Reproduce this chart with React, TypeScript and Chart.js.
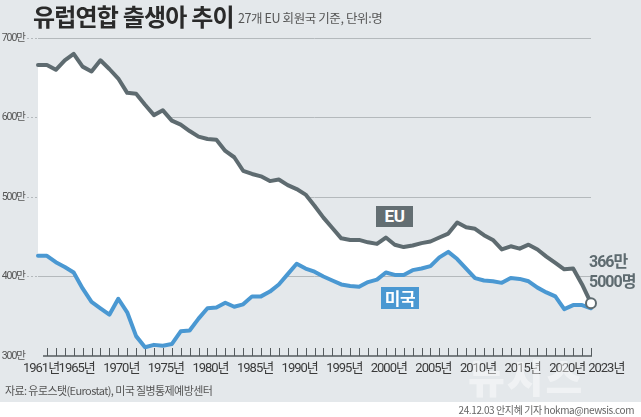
import React, { useEffect, useRef } from "react";
import { Chart, registerables } from "chart.js";

Chart.register(...registerables);

// ---------- data (만 명) ----------
const years = [
  1961, 1962, 1963, 1964, 1965, 1966, 1967, 1968, 1969, 1970,
  1971, 1972, 1973, 1974, 1975, 1976, 1977, 1978, 1979, 1980,
  1981, 1982, 1983, 1984, 1985, 1986, 1987, 1988, 1989, 1990,
  1991, 1992, 1993, 1994, 1995, 1996, 1997, 1998, 1999, 2000,
  2001, 2002, 2003, 2004, 2005, 2006, 2007, 2008, 2009, 2010,
  2011, 2012, 2013, 2014, 2015, 2016, 2017, 2018, 2019, 2020,
  2021, 2022, 2023,
];

const euBirths = [
  666, 666, 660, 672, 680, 664, 658, 672, 661, 649,
  631, 630, 616, 603, 609, 596, 591, 583, 576, 573,
  572, 558, 550, 533, 529, 526, 520, 522, 515, 510,
  503, 489, 474, 461, 448, 446, 446, 443, 441, 449,
  440, 437, 439, 442, 444, 449, 454, 468, 462, 460,
  452, 446, 434, 438, 435, 440, 434, 425, 417, 409,
  410, 390, 366.5,
];

const usBirths = [
  426, 426, 418, 412, 405, 385, 368, 360, 352, 372,
  355, 325, 311, 314, 313, 315, 331, 332, 347, 360,
  361, 367, 362, 365, 375, 375, 381, 390, 403, 416,
  410, 406, 400, 395, 390, 388, 387, 393, 396, 405,
  402, 402, 408, 410, 413, 424, 431, 422, 410, 398,
  395, 394, 392, 398, 397, 394, 386, 380, 375, 359,
  364, 364, 360,
];

const labeledYears = [1961, 1965, 1970, 1975, 1980, 1985, 1990, 1995, 2000, 2005, 2010, 2015, 2020, 2023];
const yMin = 300;
const yMax = 700;
const yStep = 100;

// ---------- styles ----------
const W = 641;
const H = 417;
const BG = "#e4e8eb";
const EU_COLOR = "#5e6b70";
const US_COLOR = "#4a98d2";
const AXIS_FONT = "Roboto, 'Noto Sans CJK KR', sans-serif";
const KR = "'Noto Sans CJK KR', 'Noto Sans', sans-serif";

const tightText = {
  id: "tightText",
  beforeDraw(chart: any) {
    (chart.ctx as any).letterSpacing = "-1px";
  },
  afterDraw(chart: any) {
    (chart.ctx as any).letterSpacing = "0px";
  },
};

const axisMarks = {
  id: "axisMarks",
  beforeDatasetsDraw(chart: any) {
    const { ctx, chartArea, scales } = chart;
    const xs = scales.x;
    const base = chartArea.bottom;
    ctx.save();
    ctx.strokeStyle = "#555b5e";
    ctx.lineWidth = 1;
    for (let i = 1; i < years.length; i++) {
      const x = Math.round(xs.getPixelForValue(i)) + 0.5;
      ctx.beginPath();
      ctx.moveTo(x, base - 8);
      ctx.lineTo(x, base);
      ctx.stroke();
    }
    ctx.lineWidth = 1.3;
    ctx.beginPath();
    ctx.moveTo(chartArea.left + 5, base);
    ctx.lineTo(chartArea.right + 1, base);
    ctx.stroke();
    ctx.restore();
  },
};

export default function App() {
  const canvasRef = useRef<HTMLCanvasElement | null>(null);

  useEffect(() => {
    document.body.style.margin = "0";
    const canvas = canvasRef.current;
    if (!canvas) return;
    const lastIdx = years.length - 1;
    const chart = new Chart(canvas, {
      type: "line",
      data: {
        labels: years.map(String),
        datasets: [
          {
            label: "EU",
            data: euBirths,
            borderColor: EU_COLOR,
            borderWidth: 4,
            backgroundColor: "#ffffff",
            fill: "+1",
            tension: 0,
            borderJoinStyle: "round",
            borderCapStyle: "round",
            pointRadius: (c: any) => (c.dataIndex === lastIdx ? 5 : 0),
            pointBackgroundColor: "#ffffff",
            pointBorderColor: EU_COLOR,
            pointBorderWidth: 2,
            clip: 6,
          },
          {
            label: "미국",
            data: usBirths,
            borderColor: US_COLOR,
            borderWidth: 4,
            fill: false,
            tension: 0,
            borderJoinStyle: "round",
            borderCapStyle: "round",
            pointRadius: 0,
            clip: 6,
          },
        ],
      },
      options: {
        responsive: false,
        animation: false,
        devicePixelRatio: 1,
        layout: { padding: { top: 38, right: 50, bottom: 0, left: 0 } },
        plugins: {
          legend: { display: false },
          tooltip: { enabled: false },
          filler: { drawTime: "beforeDatasetsDraw" },
        },
        scales: {
          x: {
            type: "category",
            offset: false,
            border: { display: false },
            grid: { display: false, drawTicks: false },
            afterFit: (s: any) => {
              s.height = 61;
            },
            ticks: {
              autoSkip: false,
              maxRotation: 0,
              minRotation: 0,
              padding: 5,
              labelOffset: 3,
              color: "#3a3a3a",
              font: { family: AXIS_FONT, size: 13 },
              callback: (_v: any, i: number) => {
                const y = years[i];
                if (!labeledYears.includes(y)) return "";
                // last label is pushed right so it does not collide with 2020
                return i === years.length - 1 ? `\u2003\u2003${y}년` : `${y}년`;
              },
            },
          },
          y: {
            min: yMin,
            max: yMax,
            border: { display: false },
            afterFit: (s: any) => {
              s.width = 38;
            },
            grid: {
              color: (c: any) => (c.tick && c.tick.value === yMin ? "rgba(0,0,0,0)" : "#b4b9bc"),
              tickColor: (c: any) => (c.tick && c.tick.value === yMin ? "rgba(0,0,0,0)" : "#b4b9bc"),
              lineWidth: 1,
              borderDash: [2, 2],
              tickBorderDash: [2, 2],
              tickLength: 11,
            },
            ticks: {
              stepSize: yStep,
              padding: 2,
              color: "#555",
              font: { family: AXIS_FONT, size: 10.5 },
              callback: (v: any) => `${v}만`,
            },
          },
        },
      },
      plugins: [tightText, axisMarks],
    } as any);
    return () => chart.destroy();
  }, []);

  return (
    <div
      style={{
        position: "absolute",
        left: 0,
        top: 0,
        width: W,
        height: H,
        background: BG,
        overflow: "hidden",
        fontFamily: KR,
      }}
    >
      <div style={{ position: "absolute", left: 0, top: 402, width: W, height: H - 402, background: "#ffffff" }} />
      <canvas ref={canvasRef} width={W} height={H} style={{ position: "absolute", left: 0, top: 0, width: W, height: H }} />
      <div
        style={{
          position: "absolute",
          left: 33,
          top: 3,
          fontSize: 24,
          fontWeight: 700,
          letterSpacing: -0.8,
          color: "#2a2a2a",
          lineHeight: 1.1,
          whiteSpace: "nowrap",
        }}
      >
        유럽연합 출생아 추이
      </div>
      <div
        style={{
          position: "absolute",
          left: 238,
          top: 10,
          fontSize: 12.5,
          letterSpacing: -0.4,
          color: "#555",
          lineHeight: 1.2,
          whiteSpace: "nowrap",
        }}
      >
        27개 EU 회원국 기준, 단위:명
      </div>
      <div
        style={{
          position: "absolute",
          left: 376,
          top: 206,
          width: 37,
          height: 21,
          background: "#636e72",
          color: "#fff",
          fontFamily: AXIS_FONT,
          fontWeight: 700,
          fontSize: 17,
          lineHeight: "21px",
          textAlign: "center",
          letterSpacing: -0.5,
        }}
      >
        EU
      </div>
      <div
        style={{
          position: "absolute",
          left: 381,
          top: 287,
          width: 38,
          height: 22,
          background: US_COLOR,
          color: "#fff",
          fontWeight: 700,
          fontSize: 17,
          lineHeight: "22px",
          textAlign: "center",
          letterSpacing: -0.5,
        }}
      >
        미국
      </div>
      <div
        style={{
          position: "absolute",
          left: 589,
          top: 252,
          color: EU_COLOR,
          fontFamily: AXIS_FONT,
          fontWeight: 700,
          fontSize: 16,
          lineHeight: "20px",
          whiteSpace: "nowrap",
          letterSpacing: -1,
        }}
      >
        366만
        <br />
        5000명
      </div>
      <div
        style={{
          position: "absolute",
          left: 468,
          top: 356,
          fontSize: 40,
          fontWeight: 900,
          color: "rgba(255,255,255,0.45)",
          letterSpacing: 2,
          lineHeight: 1,
          whiteSpace: "nowrap",
        }}
      >
        뉴시스
      </div>
      <div
        style={{
          position: "absolute",
          left: 5,
          top: 384,
          fontSize: 11,
          letterSpacing: -0.6,
          color: "#555",
          lineHeight: 1.2,
          whiteSpace: "nowrap",
        }}
      >
        자료: 유로스탯(Eurostat), 미국 질병통제예방센터
      </div>
      <div
        style={{
          position: "absolute",
          right: 7,
          top: 404,
          fontSize: 10,
          letterSpacing: -0.4,
          color: "#666",
          lineHeight: 1.2,
          whiteSpace: "nowrap",
        }}
      >
        24.12.03 안지혜 기자 hokma@newsis.com
      </div>
    </div>
  );
}
